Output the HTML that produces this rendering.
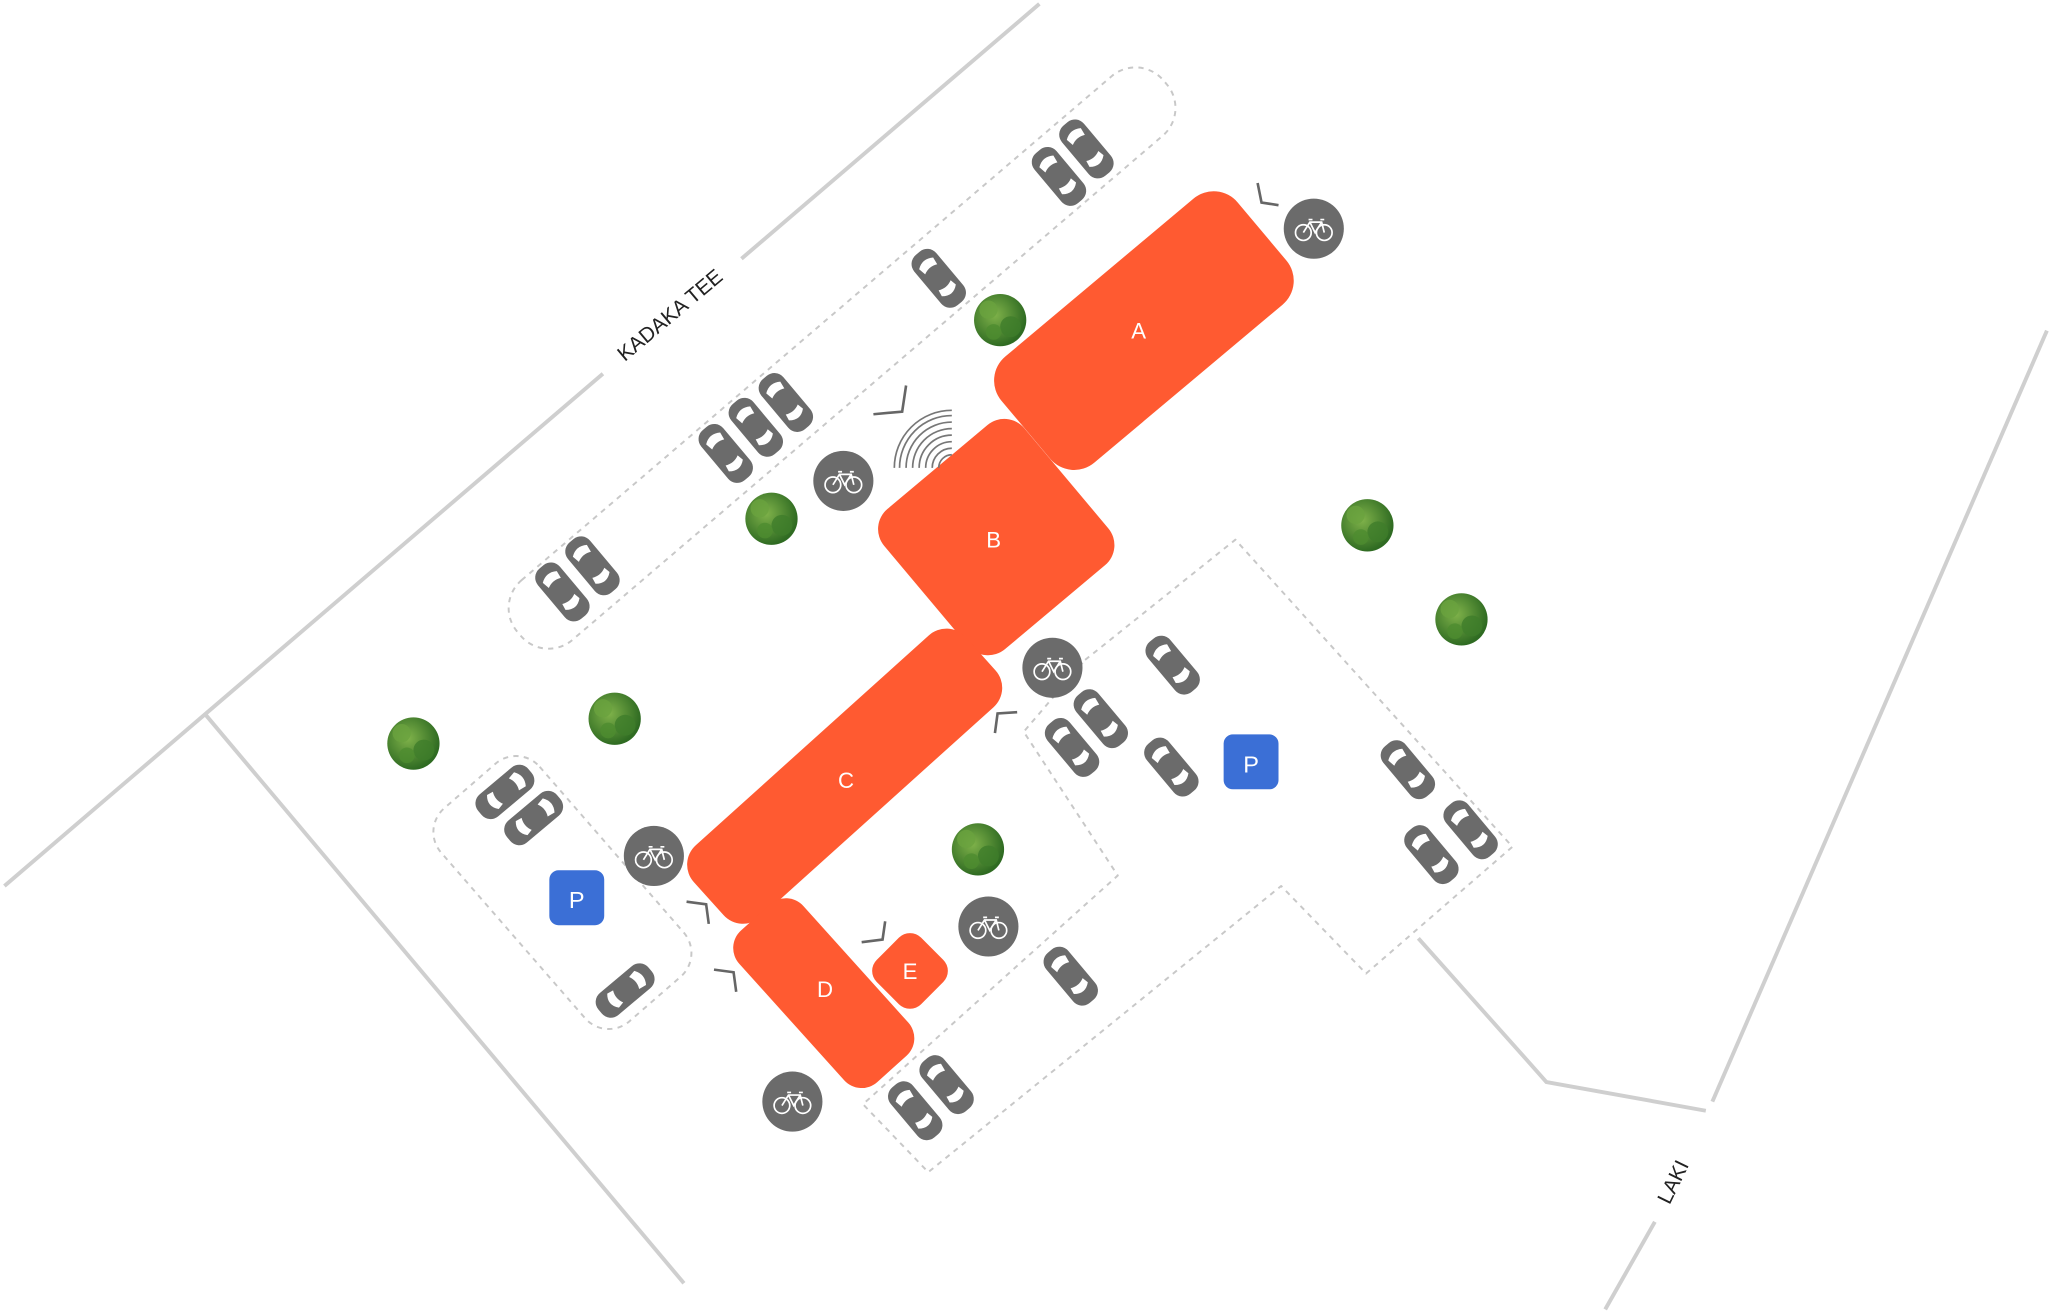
<!DOCTYPE html>
<html><head><meta charset="utf-8"><style>html,body{margin:0;padding:0;background:#fff}svg{display:block}</style></head>
<body>
<svg width="2050" height="1312" viewBox="0 0 1568 1004" xmlns="http://www.w3.org/2000/svg" font-family="Liberation Sans, sans-serif">
<defs>
<g id="car">
<rect x="-11" y="-25" width="22" height="50" rx="9" fill="#6b6b6b"/>
<path d="M-7,-15 Q0,-20 7,-15 L6,-9 Q0,-12 -6,-9 Z" fill="#fff"/>
<path d="M-7,12 Q0,18 7,12 L6,7 Q0,10 -6,7 Z" fill="#fff"/>
</g>
<g id="bike">
<circle r="23" fill="#6b6b6b"/>
<g fill="none" stroke="#fff" stroke-width="1.3">
<circle cx="-8" cy="3" r="6"/><circle cx="8" cy="3" r="6"/>
<path d="M-8,3 L-3,-5 L6,-5 L8,3 M-3,-5 L1,3 L6,-5 M-4,-7 L-1,-7 M5,-7 L8,-7"/>
</g>
</g>
<radialGradient id="tg" cx="0.4" cy="0.4" r="0.6"><stop offset="0" stop-color="#7fb24a"/><stop offset="1" stop-color="#2f6b22"/></radialGradient>
<g id="tree">
<circle r="20" fill="url(#tg)"/>
<circle cx="-9" cy="-8" r="7" fill="#6aa33e" opacity="0.8"/>
<circle cx="8" cy="5" r="8" fill="#3e7d2b" opacity="0.8"/>
<circle cx="-5" cy="9" r="6" fill="#4d8c30" opacity="0.8"/>
</g>
</defs>

<g stroke="#cfcfcf" stroke-width="3" fill="none">
<line x1="795" y1="3" x2="567" y2="198"/>
<line x1="461" y1="286" x2="3" y2="678"/>
<line x1="157" y1="547" x2="523" y2="982"/>
<polyline points="1085,718 1183,828 1305,850"/>
<line x1="1566" y1="253" x2="1310" y2="843"/>
<line x1="1266" y1="935" x2="1228" y2="1002"/>
</g>
<text x="513" y="242" font-size="16" fill="#222" text-anchor="middle" dominant-baseline="middle" transform="rotate(-40 513 242)">KADAKA TEE</text>
<text x="1281" y="905" font-size="16" fill="#222" text-anchor="middle" dominant-baseline="middle" transform="rotate(-64 1281 905)">LAKI</text>

<g fill="none" stroke="#c8c8c8" stroke-width="1.5" stroke-dasharray="4 4">
<rect x="-325" y="-30" width="650" height="60" rx="28" transform="translate(644 274) rotate(-40.5)"/>
<rect x="-108" y="-50" width="216" height="100" rx="24" transform="translate(430 683) rotate(49)"/>
<polygon points="830,505 945,413 1157,648 1045,745 980,678 710,897 660,845 855,670 783,560 830,505" stroke-linejoin="round"/>
</g>

<g fill="#ff5a31">
<rect x="-118" y="-53" width="236" height="106" rx="24" transform="translate(875 253) rotate(-40)"/>
<rect x="-70" y="-70" width="140" height="140" rx="20" transform="translate(762 411) rotate(-40)"/>
<rect x="-140" y="-37" width="280" height="74" rx="20" transform="translate(646 594) rotate(-42)"/>
<rect x="-78" y="-33" width="156" height="66" rx="18" transform="translate(630 760) rotate(48)"/>
<rect x="-24" y="-24" width="48" height="48" rx="12" transform="translate(696 743) rotate(45)"/>
</g>
<g fill="#fff" font-size="17" text-anchor="middle">
<text x="871" y="259">A</text><text x="760" y="419">B</text><text x="647" y="603">C</text><text x="631" y="763">D</text><text x="696" y="749">E</text>
</g>

<g>
<use href="#car" transform="translate(810 135) rotate(-40)"/>
<use href="#car" transform="translate(831 114) rotate(-40)"/>
<use href="#car" transform="translate(718 213) rotate(-40)"/>
<use href="#car" transform="translate(555 347) rotate(-40)"/>
<use href="#car" transform="translate(578 327) rotate(-40)"/>
<use href="#car" transform="translate(601 308) rotate(-40)"/>
<use href="#car" transform="translate(430 453) rotate(-40)"/>
<use href="#car" transform="translate(453 433) rotate(-40)"/>
<use href="#car" transform="translate(897 509) rotate(-40)"/>
<use href="#car" transform="translate(842 550) rotate(-40)"/>
<use href="#car" transform="translate(820 572) rotate(-40)"/>
<use href="#car" transform="translate(896 587) rotate(-40)"/>
<use href="#car" transform="translate(1077 589) rotate(-40)"/>
<use href="#car" transform="translate(1125 635) rotate(-40)"/>
<use href="#car" transform="translate(1095 654) rotate(-40)"/>
<use href="#car" transform="translate(819 747) rotate(-40)"/>
<use href="#car" transform="translate(700 850) rotate(-40)"/>
<use href="#car" transform="translate(724 830) rotate(-40)"/>
<use href="#car" transform="translate(386 606) rotate(50)"/>
<use href="#car" transform="translate(408 626) rotate(50)"/>
<use href="#car" transform="translate(478 758) rotate(50)"/>
</g>

<g>
<use href="#tree" x="765" y="245"/><use href="#tree" x="590" y="397"/><use href="#tree" x="470" y="550"/>
<use href="#tree" x="316" y="569"/><use href="#tree" x="748" y="650"/><use href="#tree" x="1046" y="402"/><use href="#tree" x="1118" y="474"/>
</g>

<g>
<use href="#bike" x="1005" y="175"/><use href="#bike" x="645" y="368"/><use href="#bike" x="805" y="511"/>
<use href="#bike" x="500" y="655"/><use href="#bike" x="756" y="709"/><use href="#bike" x="606" y="843"/>
</g>

<g>
<rect x="936" y="562" width="42" height="42" rx="7" fill="#3b6fd6"/>
<rect x="420" y="666" width="42" height="42" rx="7" fill="#3b6fd6"/>
<text x="957" y="591" fill="#fff" font-size="18" text-anchor="middle">P</text>
<text x="441" y="695" fill="#fff" font-size="18" text-anchor="middle">P</text>
</g>

<g fill="none" stroke="#666" stroke-width="2">
<polyline points="962,140 965,155 978,157"/>
<polyline points="693,295 690,315 668,317"/>
<polyline points="525,690 540,692 542,707"/>
<polyline points="778,545 763,546 761,561"/>
<polyline points="546,742 561,744 563,759"/>
<polyline points="677,705 675,719 659,721"/>
</g>
<g fill="none" stroke="#777" stroke-width="1.3">
<path d="M718,358 A10,10 0 0 1 728,348"/>
<path d="M713,358 A15,15 0 0 1 728,343"/>
<path d="M708,358 A20,20 0 0 1 728,338"/>
<path d="M703,358 A25,25 0 0 1 728,333"/>
<path d="M698,358 A30,30 0 0 1 728,328"/>
<path d="M693,358 A35,35 0 0 1 728,323"/>
<path d="M688,358 A40,40 0 0 1 728,318"/>
<path d="M684,358 A44,44 0 0 1 728,314"/>
</g>
</svg>
</body></html>
